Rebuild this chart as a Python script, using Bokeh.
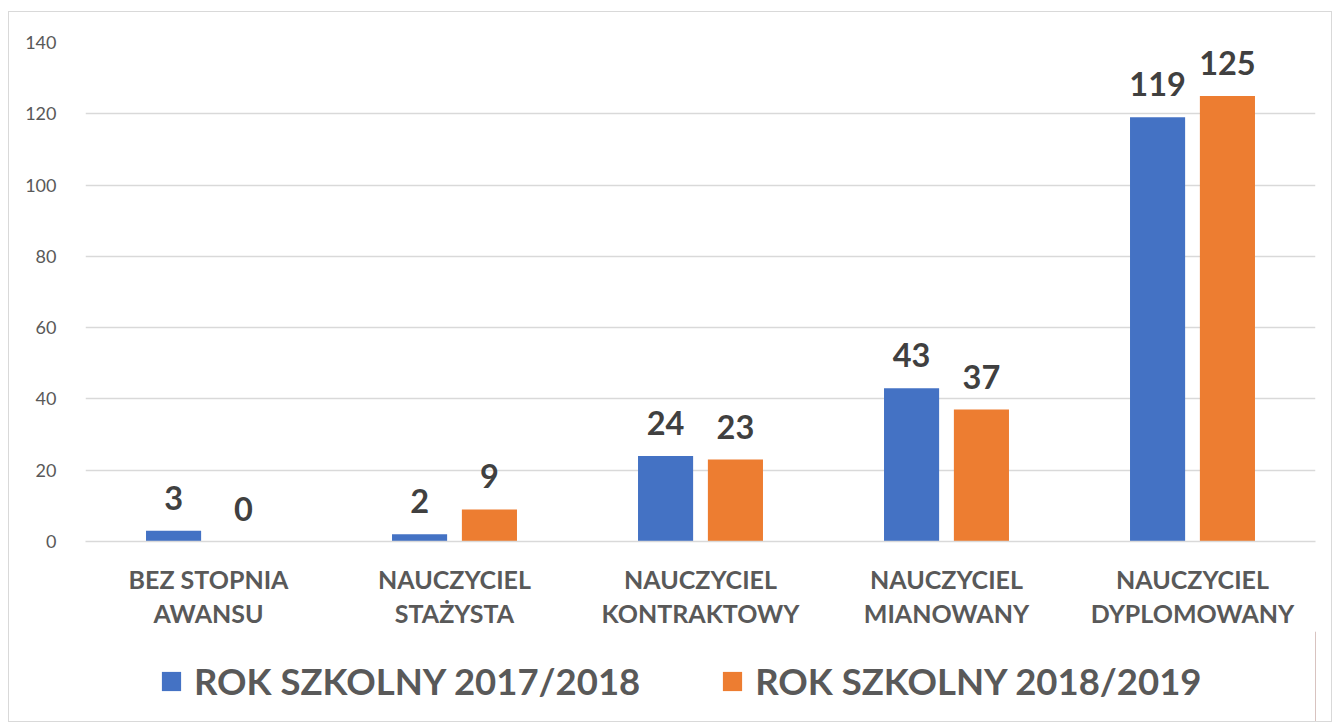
from bokeh.plotting import figure
from bokeh.models import ColumnDataSource, FixedTicker, Legend, LegendItem, Range1d
from bokeh.layouts import column
from bokeh.core.properties import value
from bokeh.embed import file_html
from bokeh.resources import INLINE

categories = ["BEZ STOPNIA\nAWANSU", "NAUCZYCIEL\nSTAŻYSTA", "NAUCZYCIEL\nKONTRAKTOWY",
              "NAUCZYCIEL\nMIANOWANY", "NAUCZYCIEL\nDYPLOMOWANY"]
series_names = ["ROK SZKOLNY 2017/2018", "ROK SZKOLNY 2018/2019"]
values_2017 = [3, 2, 24, 43, 119]
values_2018 = [0, 9, 23, 37, 125]
y_ticks = [0, 20, 40, 60, 80, 100, 120, 140]

colors = ["#4472C4", "#ED7D31"]
FONT = "Lato"
offset = 0.142
bar_w = 0.224

p = figure(frame_width=1230, frame_height=499, output_backend="svg", toolbar_location=None,
           x_range=Range1d(0, len(categories)), y_range=Range1d(0, 140),
           min_border_left=76, min_border_top=30, min_border_right=16, min_border_bottom=83)
p.outline_line_color = None

xs = [i + 0.5 for i in range(len(categories))]
for k, (vals, col) in enumerate(zip([values_2017, values_2018], colors)):
    sx = [x + (offset if k else -offset) for x in xs]
    src = ColumnDataSource(dict(x=sx, top=vals, lbl=[str(v) for v in vals]))
    p.vbar(x="x", top="top", width=bar_w, bottom=0, source=src, fill_color=col, line_color=None)
    p.text(x="x", y="top", text="lbl", source=src, text_align="center", text_baseline="alphabetic",
           y_offset=-33, text_font=value(FONT), text_font_style="bold", text_font_size="32.5px",
           text_color="#404040")

p.xgrid.grid_line_color = None
p.ygrid.grid_line_color = "#D9D9D9"
p.ygrid.grid_line_width = 1.5
p.yaxis.ticker = FixedTicker(ticks=y_ticks)
p.yaxis.axis_line_color = None
p.yaxis.major_tick_line_color = None
p.yaxis.minor_tick_line_color = None
p.yaxis.major_label_standoff = 23
p.yaxis.major_label_text_font = FONT
p.yaxis.major_label_text_font_size = "18px"
p.yaxis.major_label_text_color = "#595959"

p.xaxis.ticker = FixedTicker(ticks=xs)
p.xaxis.major_label_overrides = {x: c for x, c in zip(xs, categories)}
p.xaxis.axis_line_color = "#D9D9D9"
p.xaxis.axis_line_width = 1.5
p.xaxis.major_tick_line_color = None
p.xaxis.minor_tick_line_color = None
p.xaxis.major_label_standoff = 16
p.xaxis.major_label_text_font = FONT
p.xaxis.major_label_text_font_style = "bold"
p.xaxis.major_label_text_font_size = "25px"
p.xaxis.major_label_text_color = "#595959"
p.xaxis.major_label_text_line_height = 1.15

# legend strip below the chart
p2 = figure(width=1322, height=90, output_backend="svg", toolbar_location=None,
            x_range=Range1d(0, 1), y_range=Range1d(0, 1), min_border=0)
p2.axis.visible = False
p2.grid.visible = False
p2.outline_line_color = None
leg_renderers = []
for col in colors:
    leg_renderers.append(p2.vbar(x=[5], top=[5], width=0.1, fill_color=col, line_color=None))

legend = Legend(items=[LegendItem(label=n, renderers=[r]) for n, r in zip(series_names, leg_renderers)],
                orientation="horizontal", location=(74, 18), spacing=80, label_standoff=11,
                glyph_width=24, glyph_height=24, label_text_font=FONT, label_text_font_style="bold",
                label_text_font_size="36.5px", label_text_color="#595959", border_line_color=None,
                background_fill_alpha=0, margin=0, padding=5)
p2.add_layout(legend, "center")

layout = column(p, p2, spacing=0,
                styles={"border": "1px solid #D9D9D9", "margin-left": "8px", "margin-top": "11px"})
open("out.html", "w").write(file_html(layout, INLINE))
